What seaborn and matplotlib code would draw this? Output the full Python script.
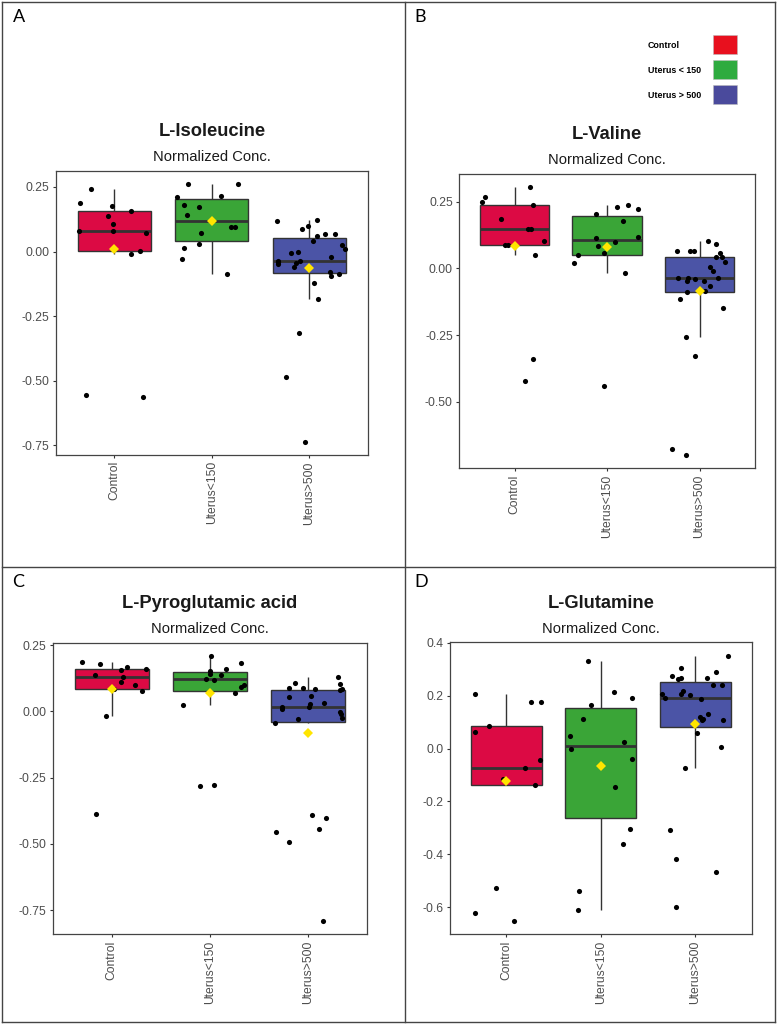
import numpy as np
import pandas as pd
import matplotlib
matplotlib.use('Agg')
import matplotlib.pyplot as plt
import seaborn as sns
from matplotlib.patches import Rectangle
from matplotlib.lines import Line2D
from matplotlib.ticker import MultipleLocator, FormatStrFormatter

groups = ['Control', 'Uterus<150', 'Uterus>500']
box_colors = ['#DC0A44', '#3AA537', '#4B54A6']
legend_labels = ['Control', 'Uterus < 150', 'Uterus > 500']
legend_colors = ['#E8101E', '#2EAB3F', '#4A4A9C']

# L-Isoleucine (A)
ile_control = [0.242, 0.189, 0.177, 0.158, 0.136, 0.108, 0.081, 0.080, 0.072,
               0.003, -0.008, -0.553, -0.564]
ile_u150 = [0.263, 0.260, 0.217, 0.211, 0.179, 0.174, 0.140, 0.096, 0.094,
            0.073, 0.030, 0.013, -0.030, -0.087]
ile_u500 = [0.121, 0.117, 0.100, 0.087, 0.067, 0.067, 0.062, 0.040, 0.027,
            0.010, -0.003, -0.006, -0.021, -0.036, -0.038, -0.039, -0.045,
            -0.049, -0.059, -0.080, -0.087, -0.096, -0.120, -0.183, -0.315,
            -0.485, -0.737]

# L-Valine (B)
val_control = [0.303, 0.268, 0.249, 0.238, 0.186, 0.148, 0.147, 0.102, 0.087,
               0.087, 0.050, -0.341, -0.420]
val_u150 = [0.236, 0.228, 0.223, 0.202, 0.177, 0.117, 0.114, 0.098, 0.083,
            0.056, 0.049, 0.019, -0.018, -0.440]
val_u500 = [0.102, 0.091, 0.064, 0.064, 0.064, 0.058, 0.042, 0.041, 0.023,
            0.005, -0.011, -0.035, -0.037, -0.037, -0.041, -0.049, -0.049,
            -0.067, -0.083, -0.088, -0.113, -0.148, -0.257, -0.327, -0.675,
            -0.697]

# L-Pyroglutamic acid (C)
pyr_control = [0.186, 0.180, 0.169, 0.161, 0.155, 0.138, 0.128, 0.110, 0.100,
               0.083, 0.078, -0.016, -0.388]
pyr_u150 = [0.208, 0.181, 0.158, 0.153, 0.140, 0.139, 0.121, 0.120, 0.099,
            0.093, 0.070, 0.023, -0.277, -0.282]
pyr_u500 = [0.129, 0.108, 0.103, 0.088, 0.088, 0.084, 0.083, 0.080, 0.058,
            0.054, 0.031, 0.029, 0.018, 0.016, 0.009, -0.001, -0.010, -0.025,
            -0.029, -0.045, -0.390, -0.403, -0.442, -0.456, -0.493, -0.790]

# L-Glutamine (D)
gln_control = [0.206, 0.178, 0.178, 0.085, 0.062, -0.045, -0.073, -0.116,
               -0.117, -0.139, -0.528, -0.622, -0.652]
gln_u150 = [0.330, 0.215, 0.191, 0.165, 0.112, 0.046, 0.023, -0.003, -0.038,
            -0.147, -0.304, -0.362, -0.539, -0.611]
gln_u500 = [0.352, 0.305, 0.290, 0.275, 0.266, 0.266, 0.263, 0.241, 0.240,
            0.217, 0.206, 0.206, 0.202, 0.191, 0.187, 0.132, 0.121, 0.111,
            0.109, 0.107, 0.059, 0.006, -0.075, -0.308, -0.418, -0.466, -0.599]

W, H = 777, 1025
plt.rcParams['axes.unicode_minus'] = False
plt.rcParams['font.family'] = ['Liberation Sans', 'DejaVu Sans']


def px_rect(x0, y0, x1, y1):
    return [x0 / W, 1 - y1 / H, (x1 - x0) / W, (y1 - y0) / H]


def draw_panel(ax, values, step, fmt):
    df = pd.DataFrame({'group': np.repeat(groups, [len(v) for v in values]),
                       'value': np.concatenate(values)})
    sns.boxplot(data=df, x='group', y='value', hue='group', order=groups,
                hue_order=groups, palette=box_colors, saturation=1, width=0.75,
                showfliers=False, showcaps=False, linecolor='#333333',
                linewidth=1.0, medianprops={'linewidth': 2.0}, legend=False,
                ax=ax)
    sns.stripplot(data=df, x='group', y='value', order=groups, color='black',
                  size=3.7, jitter=0.37, zorder=3, ax=ax)
    sns.pointplot(data=df, x='group', y='value', order=groups, estimator='mean',
                  errorbar=None, color='#FFE500', marker='D', markersize=4.8,
                  markeredgewidth=0, linestyle='none', zorder=4, ax=ax)

    lo, hi = df['value'].min(), df['value'].max()
    pad = 0.05 * (hi - lo)
    ax.set_ylim(lo - pad, hi + pad)
    ax.set_xlim(-0.6, 2.6)
    ax.yaxis.set_major_locator(MultipleLocator(step))
    ax.yaxis.set_major_formatter(FormatStrFormatter(fmt))
    ax.set_xticks(range(len(groups)))
    ax.set_xticklabels(groups, rotation=90)
    ax.set_xlabel('')
    ax.set_ylabel('')
    ax.tick_params(axis='both', length=2.5, width=0.8, color='#333333',
                   labelcolor='#4D4D4D', labelsize=8.7, pad=2)
    for s in ax.spines.values():
        s.set_color('#444444')
        s.set_linewidth(0.9)


panels = [
    ('A', 'L-Isoleucine', [ile_control, ile_u150, ile_u500], 0.25, '%.2f',
     (55.7, 170.7, 368, 455), 132, 157, (19, 17.5)),
    ('B', 'L-Valine', [val_control, val_u150, val_u500], 0.25, '%.2f',
     (459, 174, 755, 468), 134.5, 159.5, (420, 16.5)),
    ('C', 'L-Pyroglutamic acid', [pyr_control, pyr_u150, pyr_u500], 0.25, '%.2f',
     (52.7, 643, 367.3, 934), 603, 629, (18.5, 582)),
    ('D', 'L-Glutamine', [gln_control, gln_u150, gln_u500], 0.2, '%.1f',
     (449.7, 642.3, 752, 934), 604, 629, (421, 582)),
]

np.random.seed(11)
fig = plt.figure(figsize=(W / 100, H / 100), dpi=100)
fig.patch.set_facecolor('white')

for letter, title, values, step, fmt, box, ty, sy, lpos in panels:
    ax = fig.add_axes(px_rect(*box))
    draw_panel(ax, values, step, fmt)
    cx = (box[0] + box[2]) / 2 / W
    fig.text(cx, 1 - ty / H, title, ha='center', va='center', fontsize=13.2,
             fontweight='bold', color='#1A1A1A')
    fig.text(cx, 1 - sy / H, 'Normalized Conc.', ha='center', va='center',
             fontsize=10.6, color='#1A1A1A')
    fig.text(lpos[0] / W, 1 - lpos[1] / H, letter, ha='center', va='center',
             fontsize=13, family=['Lato', 'DejaVu Sans'], color='black')

# legend in panel B
for i, (lab, col) in enumerate(zip(legend_labels, legend_colors)):
    top = 35 + i * 25
    fig.patches.append(Rectangle((712.7 / W, 1 - (top + 19) / H), 24 / W, 19 / H,
                                 transform=fig.transFigure, facecolor=col,
                                 edgecolor='#BBBBBB', linewidth=0.4))
    fig.text(648 / W, 1 - (top + 10) / H, lab, ha='left', va='center',
             fontsize=6.4, fontweight='bold', color='black',
             family=['Liberation Sans Narrow', 'Liberation Sans'])

# panel borders
border = dict(color='#444444', linewidth=1.0, transform=fig.transFigure)
for xs, ys in [((2, 775), (2, 2)), ((2, 775), (1022, 1022)),
               ((2, 2), (2, 1022)), ((775, 775), (2, 1022)),
               ((404.5, 404.5), (2, 1022)), ((2, 775), (567, 567))]:
    fig.lines.append(Line2D([x / W for x in xs], [1 - y / H for y in ys], **border))

fig.savefig('out.png', dpi=100)
